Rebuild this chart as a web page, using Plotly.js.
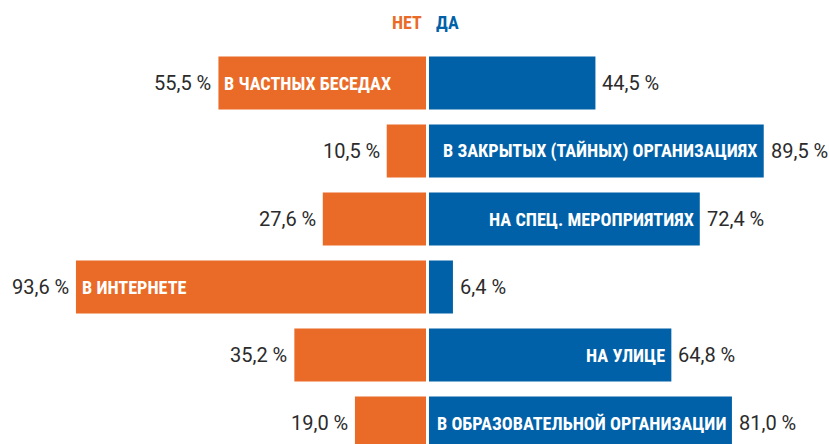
<!DOCTYPE html>
<html>
<head>
<meta charset="utf-8">
<script src="https://cdn.plot.ly/plotly-3.0.1.min.js"></script>
<style>html,body{margin:0;padding:0;background:#fff;}#chart{width:829px;height:444px;}</style>
</head>
<body>
<div id="chart"></div>
<script>
var categories = ['В ЧАСТНЫХ БЕСЕДАХ','В ЗАКРЫТЫХ (ТАЙНЫХ) ОРГАНИЗАЦИЯХ','НА СПЕЦ. МЕРОПРИЯТИЯХ','В ИНТЕРНЕТЕ','НА УЛИЦЕ','В ОБРАЗОВАТЕЛЬНОЙ ОРГАНИЗАЦИИ'];
var noValues = [55.5, 10.5, 27.6, 93.6, 35.2, 19.0];
var yesValues = [44.5, 89.5, 72.4, 6.4, 64.8, 81.0];
var labelSide = ['no','yes','yes','no','yes','yes'];
var seriesNames = ['НЕТ','ДА'];

var ORANGE = '#E96B27', BLUE = '#0061A8';
var labelFont = {family: '"Roboto Condensed", sans-serif', size: 18.2, color: '#ffffff', weight: 700};
var valueFont = {family: 'Roboto, sans-serif', size: 20, color: '#2b2b2b'};

function fmt(v){ return v.toFixed(1).replace('.', ',') + ' %'; }

var traceNo = {
  type: 'bar', orientation: 'h', name: seriesNames[0],
  x: noValues, y: categories, xaxis: 'x', yaxis: 'y',
  marker: {color: ORANGE}, width: 0.78, hoverinfo: 'none'
};
var traceYes = {
  type: 'bar', orientation: 'h', name: seriesNames[1],
  x: yesValues, y: categories, xaxis: 'x2', yaxis: 'y',
  marker: {color: BLUE}, width: 0.78, hoverinfo: 'none'
};

var annotations = [];
categories.forEach(function(c,i){
  annotations.push({xref:'x', yref:'y', x:noValues[i], y:c, text:fmt(noValues[i]), showarrow:false, xanchor:'right', xshift:-5, font:valueFont});
  annotations.push({xref:'x2', yref:'y', x:yesValues[i], y:c, text:fmt(yesValues[i]), showarrow:false, xanchor:'left', xshift:5, font:valueFont});
  if (labelSide[i] === 'no') {
    annotations.push({xref:'x', yref:'y', x:noValues[i], y:c, text:c, showarrow:false, xanchor:'left', xshift:4, font:labelFont});
  } else {
    annotations.push({xref:'x2', yref:'y', x:yesValues[i], y:c, text:c, showarrow:false, xanchor:'right', xshift:-4, font:labelFont});
  }
});
var titleFont = {family:'"Roboto Condensed", sans-serif', size:18, weight:700};
annotations.push({xref:'paper', yref:'paper', x:424/829, y:1-22/444, text:seriesNames[0], showarrow:false, xanchor:'right', yanchor:'middle', font:Object.assign({color:ORANGE}, titleFont)});
annotations.push({xref:'paper', yref:'paper', x:434/829, y:1-22/444, text:seriesNames[1], showarrow:false, xanchor:'left', yanchor:'middle', font:Object.assign({color:BLUE}, titleFont)});

var layout = {
  width: 829, height: 444,
  margin: {l:0, r:0, t:0, b:0},
  paper_bgcolor: '#fff', plot_bgcolor: '#fff',
  showlegend: false,
  barmode: 'overlay',
  xaxis: {domain:[0, 426/829], range:[426/3.74, 0], visible:false, fixedrange:true},
  xaxis2: {domain:[429/829, 1], range:[0, 400/3.74], visible:false, fixedrange:true},
  yaxis: {type:'category', categoryarray: categories, range:[(444-83)/68, -83/68], visible:false, fixedrange:true},
  annotations: annotations
};

Plotly.newPlot('chart', [traceNo, traceYes], layout, {staticPlot:true, displayModeBar:false});
</script>
</body>
</html>
